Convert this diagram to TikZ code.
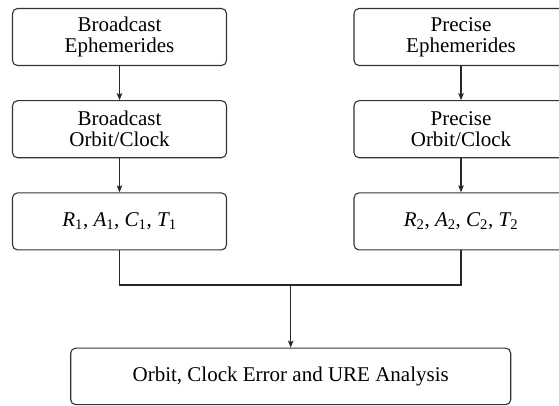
\documentclass[tikz,border=0pt]{standalone}
\usepackage{fontspec}
\setmainfont{Liberation Serif}
\usetikzlibrary{arrows.meta}

\tikzset{
  flowbox/.style={draw=black!80, line width=1.1pt, rounded corners=5pt,
    minimum width=214pt, minimum height=57pt, inner sep=0pt,
    align=center, font=\fontsize{21}{21}\selectfont},
  widebox/.style={flowbox, minimum width=440pt, minimum height=56.5pt},
  link/.style={draw=black!85, line width=1.1pt},
  flow/.style={link, -{Stealth[length=7pt,width=5.5pt,inset=1.5pt]}}
}

\newcommand{\varsub}[2]{{\itshape #1}\textsubscript{#2}}

\begin{document}
\begin{tikzpicture}[x=1pt,y=1pt]
  \useasboundingbox (0,0) rectangle (559,405);

  % left column: broadcast products
  \node[flowbox] (bE) at (119.5,368) {Broadcast\\Ephemerides};
  \node[flowbox] (bO) at (119.5,275.8) {Broadcast\\Orbit/Clock};
  \node[flowbox] (bR) at (119.5,183.6) {\varsub{R}{1}, \varsub{A}{1}, \varsub{C}{1}, \varsub{T}{1}};

  % right column: precise products
  \node[flowbox] (pE) at (461,368) {Precise\\Ephemerides};
  \node[flowbox] (pO) at (461,275.8) {Precise\\Orbit/Clock};
  \node[flowbox] (pR) at (461,183.6) {\varsub{R}{2}, \varsub{A}{2}, \varsub{C}{2}, \varsub{T}{2}};

  % comparison
  \node[widebox] (an) at (290.7,28.6) {Orbit, Clock Error and URE Analysis};

  \draw[flow] (bE) -- (bO);
  \draw[flow] (bO) -- (bR);
  \draw[flow] (pE) -- (pO);
  \draw[flow] (pO) -- (pR);

  \coordinate (jn) at (an.north |- 0,120);
  \draw[link] (bR.south) |- (jn) -| (pR.south);
  \draw[flow] (jn) -- (an.north);
\end{tikzpicture}
\end{document}
